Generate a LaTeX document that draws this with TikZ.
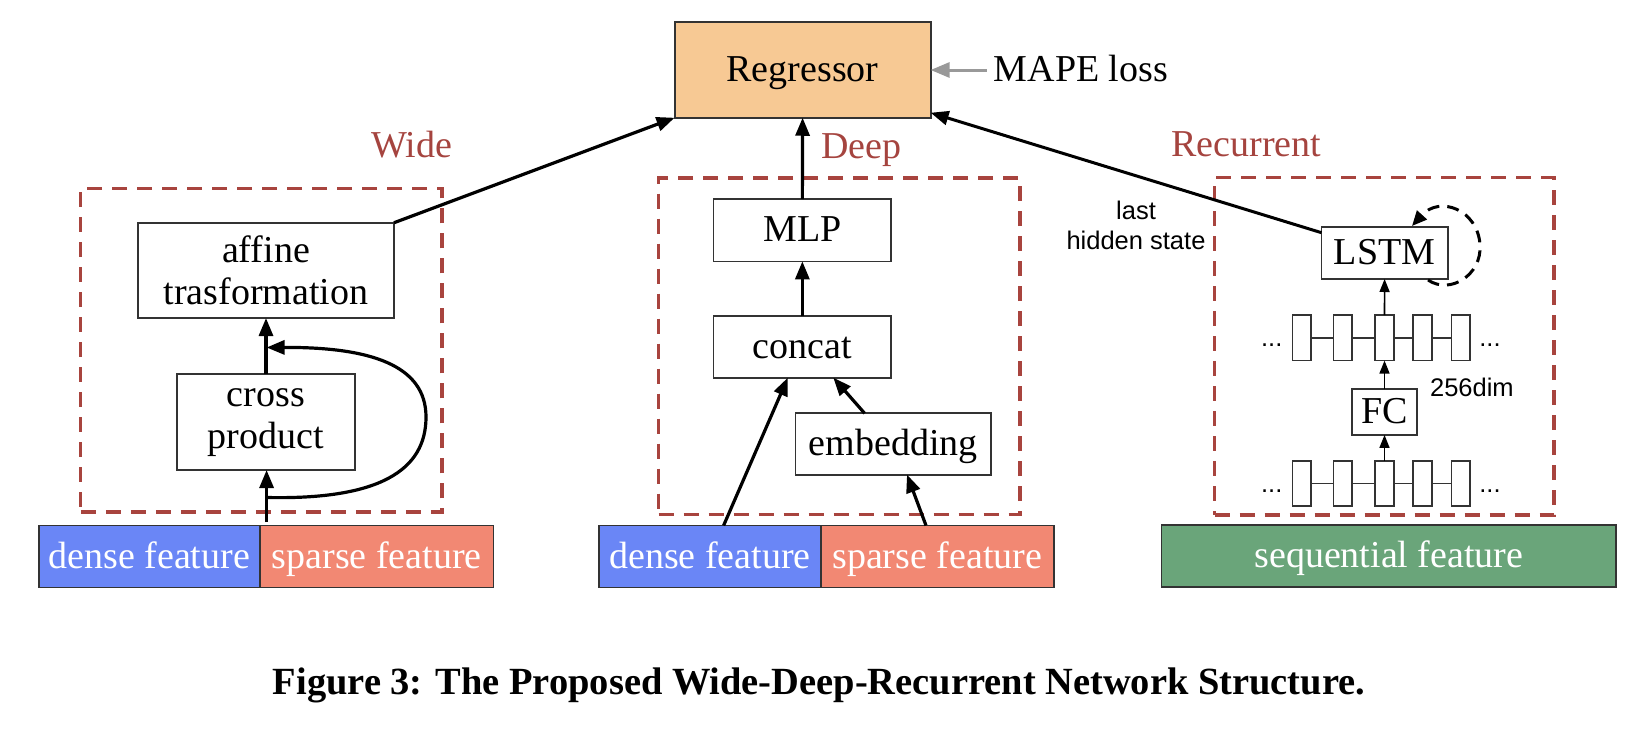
\documentclass[tikz,border=0pt]{standalone}
\usepackage{fontspec}
\usepackage{graphicx}
\setmainfont{Liberation Serif}
\newfontfamily\hsans{Liberation Sans}
\usetikzlibrary{arrows.meta}
\definecolor{regfill}{HTML}{F7C994}
\definecolor{densefill}{HTML}{6A86F6}
\definecolor{sparsefill}{HTML}{F28873}
\definecolor{seqfill}{HTML}{6AA57A}
\definecolor{dashred}{HTML}{A8443E}
\definecolor{labelred}{HTML}{A5443F}
\definecolor{boxgray}{HTML}{333333}
\definecolor{mapegray}{HTML}{999999}
\begin{document}
\begin{tikzpicture}[x=1pt,y=-1pt,
 box/.style={draw=boxgray,line width=1.8pt,inner sep=0pt,outer sep=0pt,align=center,font=\fontsize{38}{42}\selectfont},
 oneline/.style={text height=26pt,text depth=2.6pt},
 grp/.style={draw=dashred,line width=3.2pt,dash pattern=on 15pt off 10pt,inner sep=0pt,outer sep=0pt},
 lbl/.style={text=labelred,font=\fontsize{38}{42}\selectfont,anchor=base,inner sep=0pt},
 feat/.style={box,oneline,text=white,minimum height=62pt},
 bigarr/.style={line width=3.2pt,-{Triangle[length=18pt,width=14pt]}},
 smallarr/.style={line width=1.6pt,-{Triangle[length=13pt,width=10pt]}},
 seqcell/.style={draw=boxgray,line width=1.6pt,minimum width=18.5pt,minimum height=45.5pt,inner sep=0pt,outer sep=0pt},
 sanstxt/.style={font=\hsans\fontsize{25.5}{30}\selectfont,inner sep=0pt,align=center},
]
\useasboundingbox (0,0) rectangle (1636,736);

% Regressor
\node[box,oneline,fill=regfill,minimum width=256pt,minimum height=95.5pt] (reg) at (802.6,70) {Regressor};
\node[inner sep=0pt,anchor=west,oneline,font=\fontsize{38}{42}\selectfont] (mape) at (993.7,70) {MAPE loss};
\coordinate (mapes) at (986.7,70);
\draw[line width=3pt,mapegray,-{Triangle[length=19pt,width=15pt]}] (mapes) -- (reg.east);

% Wide
\node[grp,minimum width=361.3pt,minimum height=323.7pt] (wbox) at (261.4,350.2) {};
\node[lbl] (widelbl) at (411.5,157.7) {Wide};
\node[box,minimum width=256pt,minimum height=95.3pt] (affine) at (266,270.4) {affine\\trasformation};
\node[box,minimum width=178pt,minimum height=95.7pt] (cross) at (266,422.2) {cross\\product};
\node[feat,fill=densefill,minimum width=221.4pt] (dense1) at (149.3,556.5) {dense feature};
\node[feat,fill=sparsefill,minimum width=233.5pt] (sparse1) at (376.75,556.5) {sparse feature};
\coordinate (ws) at (266.6,522);
\coordinate (wc) at (266.6,497.5);
\coordinate (wce) at (266.6,347.5);
\draw[bigarr] (ws) -- (ws |- cross.south);
\draw[bigarr] (cross.north) -- (affine.south);
\draw[line width=3.2pt,-{Triangle[length=18pt,width=14pt]}] (wc) .. controls (380,500) and (426,470) .. (426,417) .. controls (426,365) and (370,347) .. (wce);
\draw[bigarr] (affine.north east) -- (reg.south west);

% Deep
\node[grp,minimum width=361.3pt,minimum height=336.7pt] (dbox) at (839.35,346.35) {};
\node[lbl] (deeplbl) at (861.3,158.8) {Deep};
\node[box,oneline,minimum width=177.9pt,minimum height=62.4pt] (mlp) at (802.35,230.2) {MLP};
\node[box,oneline,minimum width=177.9pt,minimum height=61.6pt] (concat) at (802.35,346.9) {concat};
\node[box,oneline,minimum width=195.7pt,minimum height=61.3pt] (embed) at (893.35,443.95) {embedding};
\node[feat,fill=densefill,minimum width=221.8pt] (dense2) at (709.9,556.5) {dense feature};
\node[feat,fill=sparsefill,minimum width=232.9pt] (sparse2) at (937.25,556.5) {sparse feature};
\draw[bigarr] (mlp.north) -- (reg.south);
\draw[bigarr] (concat.north) -- (mlp.south);
\draw[bigarr] ([xshift=13.7pt]dense2.north) -- ([xshift=-14.55pt]concat.south);
\draw[bigarr] ([xshift=-28.75pt]embed.north) -- ([xshift=31pt]concat.south);
\draw[bigarr] ([xshift=-11.25pt]sparse2.north) -- ([xshift=13.65pt]embed.south);

% Recurrent
\node[grp,minimum width=339.5pt,minimum height=337.3pt] (rbox) at (1384.25,346.35) {};
\node[lbl] (reclbl) at (1246.2,156.7) {Recurrent};
\node[box,oneline,minimum width=126.2pt,minimum height=52.3pt] (lstm) at (1384.6,252.85) {LSTM};
\node[box,oneline,minimum width=64.4pt,minimum height=45.7pt] (fc) at (1384.5,412.1) {FC};
\node[feat,fill=seqfill,minimum width=454.7pt,minimum height=62.3pt] (seq) at (1388.85,556.15) {sequential feature};
\node[sanstxt] (lhs) at (1136,225) {last\\hidden state};
\node[sanstxt] (dim) at (1471.9,387.3) {256dim};

\foreach \i/\cx in {1/1301.8,2/1342.7,3/1384.5,4/1422.5,5/1460.8}{
  \node[seqcell] (u\i) at (\cx,337.85) {};
  \node[seqcell] (l\i) at (\cx,483.5) {};
}
\foreach \a/\b in {1/2,2/3,3/4,4/5}{
  \draw[line width=1.6pt,boxgray] (u\a) -- (u\b);
  \draw[line width=1.6pt,boxgray] (l\a) -- (l\b);
}
\node[sanstxt,anchor=base] (ud1) at (1271.7,346) {...};
\node[sanstxt,anchor=base] (ud2) at (1490,346) {...};
\node[sanstxt,anchor=base] (ld1) at (1271.7,492) {...};
\node[sanstxt,anchor=base] (ld2) at (1490,492) {...};

\draw[smallarr] (u3.north) -- (lstm.south);
\draw[smallarr] (fc.north) -- (u3.south);
\draw[smallarr] (l3.north) -- (fc.south);
\draw[line width=3pt,-{Triangle[length=18pt,width=14pt]}] ([yshift=-6pt]lstm.north west) -- ([yshift=5pt]reg.south east);
\coordinate (ls) at (1428,280);
\coordinate (le) at (1412,226);
\draw[line width=3pt,dash pattern=on 12pt off 8pt,-{Triangle[length=15pt,width=13pt]}] (ls) .. controls (1450,295) and (1482,275) .. (1480,245) .. controls (1478,210) and (1440,195) .. (le);

% caption
\node[inner sep=0pt] (cap) at (819,685) {\resizebox{1092pt}{!}{\bfseries Figure 3: The Proposed Wide-Deep-Recurrent Network Structure.}};
\end{tikzpicture}
\end{document}
